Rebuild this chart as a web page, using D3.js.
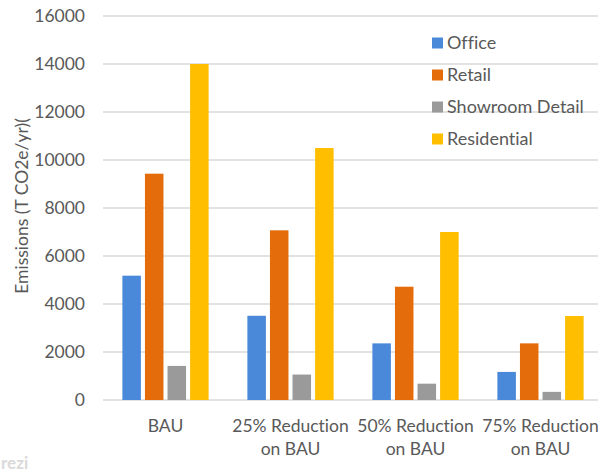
<!DOCTYPE html>
<html>
<head>
<meta charset="utf-8">
<script src="https://cdn.jsdelivr.net/npm/d3@7/dist/d3.min.js"></script>
<style>
  html, body { margin: 0; padding: 0; background: #fff; }
  svg { display: block; }
  text { font-family: Lato, "Liberation Sans", sans-serif; fill: #595959; font-variant-ligatures: none; }
</style>
</head>
<body>
<svg id="chart" width="598" height="472"></svg>
<script>
// Scenario categories (each may wrap to two lines)
const categories = [
  ["BAU"],
  ["25% Reduction", "on BAU"],
  ["50% Reduction", "on BAU"],
  ["75% Reduction", "on BAU"]
];
const seriesNames = ["Office", "Retail", "Showroom Detail", "Residential"];
const office      = [5180, 3510, 2360, 1170];
const retail      = [9430, 7070, 4720, 2360];
const showroom    = [1420, 1060, 680, 340];
const residential = [14000, 10500, 7000, 3500];
const yTicks = [0, 2000, 4000, 6000, 8000, 10000, 12000, 14000, 16000];
const colors = ["#4A89D9", "#E46C0A", "#9A9A9A", "#FFBF00"];

const seriesValues = [office, retail, showroom, residential];
const rows = categories.map((c, i) => ({
  key: i,
  label: c,
  values: seriesValues.map((s, j) => ({ name: seriesNames[j], value: s[i] }))
}));

const svg = d3.select("#chart");
const plot = { left: 103, right: 603, top: 16, bottom: 400 };

const x0 = d3.scaleBand()
  .domain(rows.map(r => r.key))
  .range([plot.left, plot.right])
  .paddingInner(0.31)
  .paddingOuter(0.155);

const x1 = d3.scaleBand()
  .domain(seriesNames)
  .range([0, x0.bandwidth()])
  .paddingInner(0.18);

const y = d3.scaleLinear().domain([0, 16000]).range([plot.bottom, plot.top]);
const color = d3.scaleOrdinal().domain(seriesNames).range(colors);

// Horizontal gridlines
svg.append("g")
  .selectAll("line")
  .data(yTicks)
  .join("line")
  .attr("x1", plot.left)
  .attr("x2", 598)
  .attr("y1", d => y(d))
  .attr("y2", d => y(d))
  .attr("stroke", "#D9D9D9")
  .attr("stroke-width", 1.3);

// Y axis tick labels
const yAxis = svg.append("g")
  .attr("transform", `translate(${plot.left - 18},0)`)
  .call(d3.axisLeft(y).tickValues(yTicks).tickSize(0).tickPadding(0).tickFormat(d3.format("d")));
yAxis.select(".domain").remove();
yAxis.selectAll("text")
  .attr("font-size", 17.5)
  .style("font-family", "Lato, 'Liberation Sans', sans-serif")
  .attr("fill", "#595959");

// Bars
svg.append("g")
  .selectAll("g")
  .data(rows)
  .join("g")
  .attr("transform", d => `translate(${x0(d.key)},0)`)
  .selectAll("rect")
  .data(d => d.values)
  .join("rect")
  .attr("x", d => x1(d.name))
  .attr("y", d => y(d.value))
  .attr("width", x1.bandwidth())
  .attr("height", d => y(0) - y(d.value))
  .attr("fill", d => color(d.name));

// Category labels
const catG = svg.append("g");
rows.forEach(r => {
  const cx = x0(r.key) + x0.bandwidth() / 2;
  const t = catG.append("text")
    .attr("x", cx)
    .attr("y", 432)
    .attr("text-anchor", "middle")
    .attr("font-size", 17.5);
  r.label.forEach((line, i) => {
    t.append("tspan").attr("x", cx).attr("dy", i === 0 ? 0 : 23).text(line);
  });
});

// Y axis title
svg.append("text")
  .attr("transform", "translate(28,206) rotate(-90)")
  .attr("text-anchor", "middle")
  .attr("font-size", 17.5)
  .text("Emissions (T CO2e/yr)(");

// Legend
const legend = svg.append("g").attr("transform", "translate(432,43)");
const li = legend.selectAll("g")
  .data(seriesNames)
  .join("g")
  .attr("transform", (d, i) => `translate(0,${i * 32})`);
li.append("rect")
  .attr("x", 0).attr("y", -5.5)
  .attr("width", 11).attr("height", 11)
  .attr("fill", d => color(d));
li.append("text")
  .attr("x", 15)
  .attr("y", 0)
  .attr("dy", "0.35em")
  .attr("font-size", 18)
  .text(d => d);

// Faint presentation watermark in the corner
svg.append("text")
  .attr("x", 1)
  .attr("y", 469)
  .attr("font-size", 17)
  .attr("font-weight", "bold")
  .style("fill", "#DADADA")
  .text("rezi");
</script>
</body>
</html>
